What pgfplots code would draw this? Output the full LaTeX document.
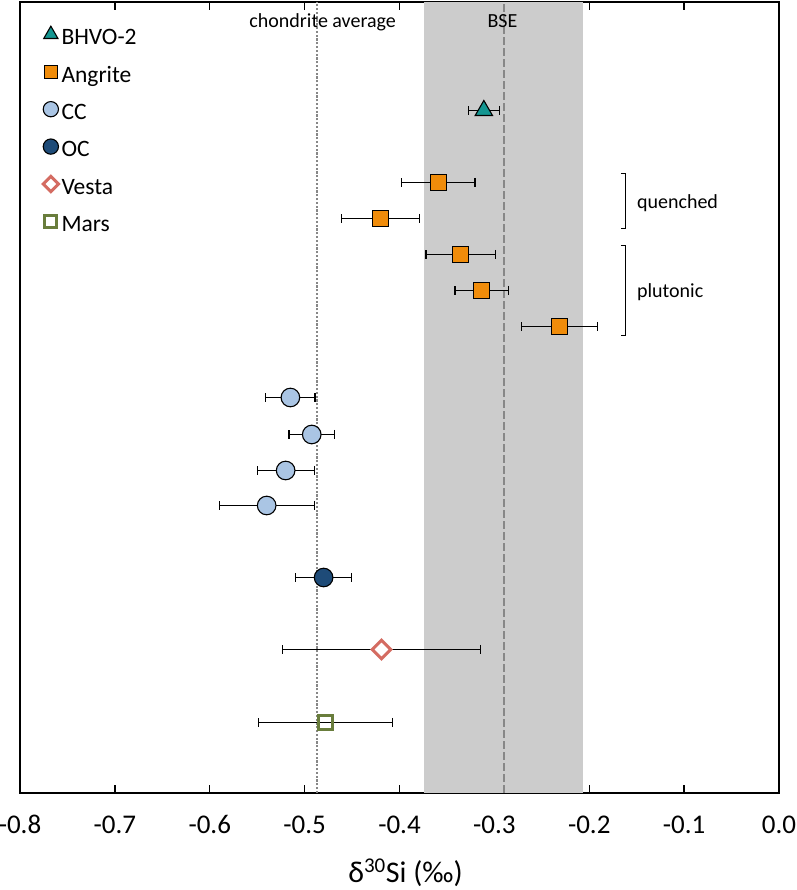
\documentclass[border=0pt]{standalone}
\usepackage{fontspec}
\setmainfont{Carlito}
\usepackage{pgfplots}
\pgfplotsset{compat=1.18}
\definecolor{tealc}{RGB}{20,150,145}
\definecolor{orng}{RGB}{240,140,10}
\definecolor{ccblue}{RGB}{170,197,228}
\definecolor{ocblue}{RGB}{30,75,120}
\definecolor{vestac}{RGB}{212,108,98}
\definecolor{marsc}{RGB}{105,125,60}
\definecolor{bandc}{RGB}{204,204,204}
\definecolor{linec}{RGB}{135,135,135}
\begin{document}
\begin{tikzpicture}
\path[use as bounding box] (0,0) rectangle (796pt,890pt);
\begin{axis}[
  at={(20pt,97pt)}, anchor=south west,
  scale only axis, width=759pt, height=791pt,
  xmin=-0.8, xmax=0, ymin=0, ymax=791,
  ytick=\empty,
  xtick={-0.8,-0.7,-0.6,-0.5,-0.4,-0.3,-0.2,-0.1,0},
  xticklabel={\pgfmathprintnumber[fixed,fixed zerofill,precision=1,assume math mode=true]{\tick}},
  xticklabel style={font=\fontsize{27}{30}\selectfont},
  xticklabel shift=19pt,
  tick align=inside, major tick length=8pt,
  tick style={black, line width=1.3pt},
  axis line style={black, line width=1.4pt},
  xlabel={δ\textsuperscript{30}Si (‰)},
  xlabel style={font=\fontsize{30}{34}\selectfont, at={(axis description cs:0.5,0)}, anchor=base, yshift=-89pt, xshift=6pt},
  clip=false,
  legend style={draw=none, fill=none, at={(axis cs:-0.8,791)}, anchor=north west, xshift=20pt, yshift=-20.5pt,
     font=\fontsize{23.5}{26}\selectfont, row sep=0pt,
     nodes={inner xsep=3pt, inner ysep=0pt, text height=20pt, text depth=17.4pt}},
  legend cell align=left,
  legend image code/.code={\draw[mark repeat=2,mark phase=2,#1] plot coordinates {(0pt,9pt)(9pt,9pt)(18pt,9pt)};},
  legend image post style={every mark/.append style={scale=0.82}},
  error bars/error bar style={black, line width=1.2pt},
  error bars/error mark=|,
  error bars/error mark options={black, line width=1.2pt, mark size=4.5pt},
]
% BSE band and reference lines
\addplot[fill=bandc, draw=none, forget plot] coordinates {(-0.374,0) (-0.374,791) (-0.207,791) (-0.207,0)} -- cycle;
\addplot[linec, line width=2.4pt, dash pattern=on 2.2pt off 1.6pt, forget plot] coordinates {(-0.487,0) (-0.487,791)};
\addplot[linec, line width=2.4pt, dash pattern=on 8pt off 3pt, forget plot] coordinates {(-0.290,0) (-0.290,791)};

% BHVO-2
\addplot[only marks, mark=triangle*, mark size=10pt, mark options={fill=tealc, draw=black, line width=1.1pt},
  error bars/.cd, x dir=both, x explicit]
  table[x=x, y=y, x error=e] {
x y e
-0.3111 682.5 0.0162
};
\addlegendentry{BHVO-2}
% Angrite
\addplot[only marks, mark=square*, mark size=8pt, mark options={fill=orng, draw=black, line width=1.1pt},
  error bars/.cd, x dir=both, x explicit]
  table[x=x, y=y, x error=e] {
x y e
-0.359 610.5 0.0385
-0.4201 574.5 0.041
-0.3354 538.5 0.0366
-0.3132 502.5 0.0283
-0.231 466.5 0.040
};
\addlegendentry{Angrite}
% CC
\addplot[only marks, mark=*, mark size=9.3pt, mark options={fill=ccblue, draw=black, line width=1.1pt},
  error bars/.cd, x dir=both, x explicit]
  table[x=x, y=y, x error=e] {
x y e
-0.515 395.5 0.026
-0.4925 358.5 0.024
-0.520 322.5 0.030
-0.540 287.5 0.050
};
\addlegendentry{CC}
% OC
\addplot[only marks, mark=*, mark size=9.3pt, mark options={fill=ocblue, draw=black, line width=1.1pt},
  error bars/.cd, x dir=both, x explicit]
  table[x=x, y=y, x error=e] {
x y e
-0.480 215.5 0.0295
};
\addlegendentry{OC}
% Vesta
\addplot[only marks, mark=square*, mark size=6.6pt, mark options={rotate=45, fill=white, draw=vestac, line width=3pt},
  error bars/.cd, x dir=both, x explicit]
  table[x=x, y=y, x error=e] {
x y e
-0.419 143.5 0.104
};
\addlegendentry{Vesta}
% Mars
\addplot[only marks, mark=square, mark size=7.3pt, mark options={draw=marsc, line width=3pt},
  error bars/.cd, x dir=both, x explicit]
  table[x=x, y=y, x error=e] {
x y e
-0.478 70.5 0.071
};
\addlegendentry{Mars}

% annotations
\node[font=\fontsize{20}{24}\selectfont, anchor=base] at (axis cs:-0.481,765) {chondrite average};
\node[font=\fontsize{20}{24}\selectfont, anchor=base] at (axis cs:-0.2915,765) {BSE};
\draw[black, line width=1pt] (axis cs:-0.1667,619) -- (axis cs:-0.1614,619) -- (axis cs:-0.1614,564) -- (axis cs:-0.1667,564);
\draw[black, line width=1pt] (axis cs:-0.1667,547.3) -- (axis cs:-0.1614,547.3) -- (axis cs:-0.1614,457.3) -- (axis cs:-0.1667,457.3);
\node[font=\fontsize{20}{24}\selectfont, anchor=base west, inner sep=0pt] at (axis cs:-0.1498,584) {quenched};
\node[font=\fontsize{20}{24}\selectfont, anchor=base west, inner sep=0pt] at (axis cs:-0.1498,495) {plutonic};
\end{axis}
\end{tikzpicture}
\end{document}
